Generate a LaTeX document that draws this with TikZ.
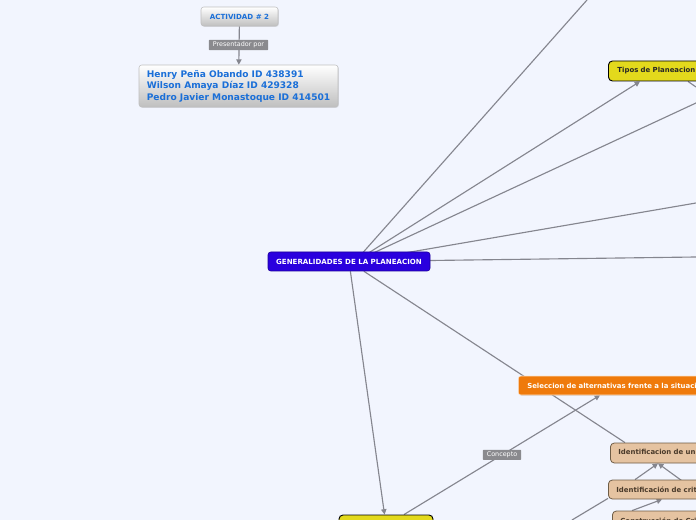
\documentclass[tikz,border=0pt]{standalone}
\usepackage{fontspec}
\setmainfont{DejaVu Sans}
\usetikzlibrary{arrows.meta,calc,shadows}
\definecolor{bgc}{HTML}{F2F5FE}
\definecolor{linec}{HTML}{85868F}
\definecolor{namec}{HTML}{1A6FD8}
\definecolor{genc}{HTML}{2A00DE}
\definecolor{yelc}{HTML}{E3D91C}
\definecolor{orac}{HTML}{EF7A0B}
\definecolor{tanc}{HTML}{E5C3A1}
\definecolor{tanb}{HTML}{6E5C46}
\definecolor{tant}{HTML}{4A3A2A}
\definecolor{labc}{HTML}{8A8A8E}
\newcommand{\fsz}[1]{\fontsize{#1}{7}\selectfont}
\pgfdeclarelayer{bgl}
\pgfdeclarelayer{edges}
\pgfsetlayers{bgl,edges,main}
\tikzset{
  conn/.style={draw=linec, line width=0.85pt},
  arr/.style={-{Triangle[length=4pt,width=4pt]}},
  greybox/.style={draw=black!25, rounded corners=2pt, top color=white, bottom color=black!25,
    text=namec, font=\bfseries, drop shadow={shadow xshift=0.6pt,shadow yshift=-0.6pt,opacity=0.25}},
  genbox/.style={fill=genc, draw=genc!70!black, rounded corners=2pt, text=white, font=\fsz{5.3}\bfseries},
  yelbox/.style={fill=yelc, draw=black, line width=0.7pt, rounded corners=3pt, text=black!85, font=\fsz{5.2}\bfseries},
  orabox/.style={fill=orac, draw=white!80!orac, rounded corners=2pt, text=white, font=\fsz{5.2}\bfseries,
    drop shadow={shadow xshift=0.6pt,shadow yshift=-0.6pt,opacity=0.25}},
  tanbox/.style={fill=tanc, draw=tanb, line width=0.6pt, rounded corners=3pt, text=tant, font=\fsz{5.2}\bfseries},
  tag/.style={fill=labc, text=white, font=\fsz{4.8}, inner xsep=3pt, inner ysep=1.5pt, rounded corners=0.5pt}
}
\begin{document}
\begin{tikzpicture}[x=0.75pt,y=-0.75pt]
\useasboundingbox (0,0) rectangle (696,520);
\begin{pgfonlayer}{bgl}
\fill[bgc] (0,0) rectangle (696,520);
\end{pgfonlayer}

% nodes
\node[greybox, minimum width=57.75pt, minimum height=14.25pt, font=\fsz{5.3}\bfseries] (act) at (239.5,16.5) {ACTIVIDAD \# 2};
\node[greybox, minimum width=149.25pt, minimum height=31.5pt, align=left, font=\fontsize{6.8}{8.6}\selectfont\bfseries] (names) at (238.5,86)
  {Henry Peña Obando ID 438391\\Wilson Amaya Díaz ID 429328\\Pedro Javier Monastoque ID 414501};
\node[genbox, minimum width=121.5pt, minimum height=14.25pt] (gen) at (349,261.5) {GENERALIDADES DE LA PLANEACION};
\node[yelbox, anchor=west, minimum height=15pt, text width=80pt, align=left, inner xsep=6.75pt] (tipos) at (608,71) {Tipos de Planeacion};
\node[orabox, anchor=west, minimum height=14.25pt, text width=200pt, align=left, inner xsep=6.75pt] (sel) at (518,385.5) {Seleccion de alternativas frente a la situacion};
\node[tanbox, anchor=west, minimum height=15pt, text width=120pt, align=left, inner xsep=6pt] (ident1) at (610,453) {Identificacion de un problema};
\node[tanbox, anchor=west, minimum height=14.25pt, text width=120pt, align=left, inner xsep=6pt] (ident2) at (608,489.5) {Identificación de criterios};
\node[tanbox, anchor=west, minimum height=15pt, text width=120pt, align=left, inner xsep=6pt] (constr) at (612,521) {Construcción de Criterios};
\node[yelbox, minimum width=70.5pt, minimum height=15pt] (ybox) at (386,525) {};

% free ends and hidden start point inside gen
\coordinate (gs) at ($(gen)+(6,0)$);
\coordinate (e1) at (587,0);
\coordinate (e2) at (696,103);
\coordinate (e3) at (696,203);
\coordinate (e4) at (696,257);
\coordinate (e5) at (696,87);
\coordinate (e6) at (696,491);
\coordinate (e7) at (572,520);

\begin{pgfonlayer}{edges}
\draw[conn,arr] (act) -- (names);
\draw[conn] (gs) -- (e1);
\draw[conn,arr] (gs) -- ($(tipos.south west)+(32,0)$);
\draw[conn] (gs) -- (e2);
\draw[conn] (gs) -- (e3);
\draw[conn] (gs) -- (e4);
\draw[conn] ($(tipos.south west)+(80,0)$) -- (e5);
\draw[conn] (gen) -- ($(ident1.north west)+(15,0)$);
\draw[conn,arr] (gen) -- (ybox);
\draw[conn,arr] ($(ybox.north)+(18,0)$) -- ($(sel.south west)+(82,0)$) node[midway, tag] (concepto) {Concepto};
\draw[conn,arr] ($(ident2.north west)+(27,0)$) -- ($(ident1.south west)+(48,0)$);
\draw[conn,arr] (e6) -- ($(ident1.south west)+(48,0)$);
\draw[conn] (e7) -- ($(ident2.south west)+(0,-1)$);
\draw[conn,arr] ($(constr.north west)+(20,0)$) -- ($(ident2.south west)+(54,0)$);
\end{pgfonlayer}

\node[tag] (pres) at (238.5,45) {Presentador por};
\end{tikzpicture}
\end{document}
